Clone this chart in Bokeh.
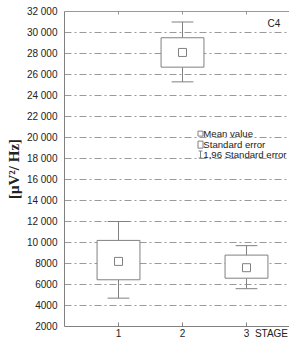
from bokeh.plotting import figure
from bokeh.models import LinearAxis, FixedTicker, Range1d, Label
from bokeh.core.properties import value
from bokeh.embed import file_html
from bokeh.resources import INLINE

# ---- data ----
stages = [1, 2, 3]
stage_labels = ["1", "2", "3"]
means = [8200, 28100, 7600]
se_low = [6450, 26700, 6600]
se_high = [10200, 29500, 8800]
ci_low = [4700, 25300, 5600]
ci_high = [12000, 31000, 9700]
y_ticks = [2000, 4000, 6000, 8000, 10000, 12000, 14000, 16000, 18000, 20000,
           22000, 24000, 26000, 28000, 30000, 32000]
y_tick_labels = ["2000", "4000", "6000", "8000", "10 000", "12 000", "14 000", "16 000",
                 "18 000", "20 000", "22 000", "24 000", "26 000", "28 000", "30 000", "32 000"]
x_title = "STAGE"
x_title_pos = 3.39
legend_items = ["Mean value", "Standard error", "1,96 Standard error"]

FONT = "Liberation Sans"
GRAY = "#808080"
TXT = "#222222"

Y0, Y1 = 2000, 32000
p = figure(width=289, height=341, output_backend="svg", toolbar_location=None,
           x_range=Range1d(0.156, 3.672), y_range=Range1d(Y0, Y1),
           min_border_left=64, min_border_right=0, min_border_top=11, min_border_bottom=14,
           x_axis_location=None, y_axis_location=None)
p.outline_line_color = None
p.background_fill_color = "white"
p.border_fill_color = "white"

# axes
yaxis = LinearAxis(ticker=FixedTicker(ticks=y_ticks),
                   major_label_overrides={t: l for t, l in zip(y_ticks, y_tick_labels)})
yaxis.axis_line_color = GRAY
yaxis.major_tick_in = 0
yaxis.major_tick_out = 0
yaxis.major_tick_line_color = None
yaxis.minor_tick_line_color = None
yaxis.major_label_text_font = FONT
yaxis.major_label_text_font_size = "10px"
yaxis.major_label_text_color = TXT
yaxis.major_label_standoff = 7
yaxis.axis_label = "[μV²/ Hz]"
yaxis.axis_label_text_font = "Liberation Serif"
yaxis.axis_label_text_font_style = "bold"
yaxis.axis_label_text_font_size = "15px"
yaxis.axis_label_text_color = TXT
yaxis.axis_label_standoff = 2
p.add_layout(yaxis, "left")

xticks = stages + [x_title_pos]
xlabels = stage_labels + [x_title]
xaxis = LinearAxis(ticker=FixedTicker(ticks=xticks),
                   major_label_overrides={s: l for s, l in zip(xticks, xlabels)})
xaxis.axis_line_color = GRAY
xaxis.major_tick_in = 0
xaxis.major_tick_out = 0
xaxis.major_tick_line_color = None
xaxis.minor_tick_line_color = None
xaxis.major_label_text_font = FONT
xaxis.major_label_text_font_size = "10px"
xaxis.major_label_text_color = TXT
xaxis.major_label_standoff = 1
p.add_layout(xaxis, "below")

taxis = LinearAxis(ticker=FixedTicker(ticks=stages))
taxis.axis_line_color = "#999999"
taxis.major_tick_in = 3
taxis.major_tick_out = 0
taxis.major_label_standoff = 0
taxis.major_tick_line_color = "#999999"
taxis.minor_tick_line_color = None
taxis.major_label_text_font_size = "0px"
taxis.major_label_text_color = None
p.add_layout(taxis, "above")

# grid
p.xgrid.visible = False
p.ygrid.ticker = FixedTicker(ticks=y_ticks)
p.ygrid.grid_line_color = "#9a9a9a"
p.ygrid.grid_line_dash = "7 3 2 3"
p.ygrid.grid_line_width = 1

# inner tick marks on the bottom axis at each stage
tick_len = (Y1 - Y0) * 4 / 316
p.segment(x0=stages, y0=[Y0] * len(stages), x1=stages, y1=[Y0 + tick_len] * len(stages),
          line_color=GRAY, line_width=1)

# whiskers
p.segment(x0=stages, y0=se_high, x1=stages, y1=ci_high, line_color=GRAY, line_width=1)
p.segment(x0=stages, y0=se_low, x1=stages, y1=ci_low, line_color=GRAY, line_width=1)
cap = 0.17
p.segment(x0=[s - cap for s in stages], y0=ci_high, x1=[s + cap for s in stages], y1=ci_high,
          line_color=GRAY, line_width=1)
p.segment(x0=[s - cap for s in stages], y0=ci_low, x1=[s + cap for s in stages], y1=ci_low,
          line_color=GRAY, line_width=1)

# boxes
p.vbar(x=stages, width=0.67, bottom=se_low, top=se_high, fill_color="white",
       line_color=GRAY, line_width=1)
# means
p.scatter(x=stages, y=means, marker="square", size=8, fill_color="white",
          line_color=GRAY, line_width=1)

# legend (custom)
lx = 2.281
ly = [20370, 19320, 18380]
p.scatter(x=[lx], y=[ly[0]], marker="square", size=5, fill_color="white", line_color=GRAY)
p.rect(x=[lx], y=[ly[1]], width=5, height=7, width_units="screen", height_units="screen",
       fill_color="white", line_color=GRAY)
p.segment(x0=[lx], y0=[ly[2] - 330], x1=[lx], y1=[ly[2] + 330], line_color=GRAY)
p.segment(x0=[lx - 0.03, lx - 0.03], y0=[ly[2] - 330, ly[2] + 330],
          x1=[lx + 0.03, lx + 0.03], y1=[ly[2] - 330, ly[2] + 330], line_color=GRAY)
p.text(x=[lx + 0.045] * 3, y=ly, text=legend_items, text_font=value(FONT),
       text_font_size="9.6px", text_baseline="middle", text_color=TXT)

p.add_layout(Label(x=3.33, y=30860, text="C4", text_font=FONT, text_font_size="10px",
                   text_color=TXT, text_baseline="middle"))

open("out.html", "w").write(file_html(p, INLINE))
